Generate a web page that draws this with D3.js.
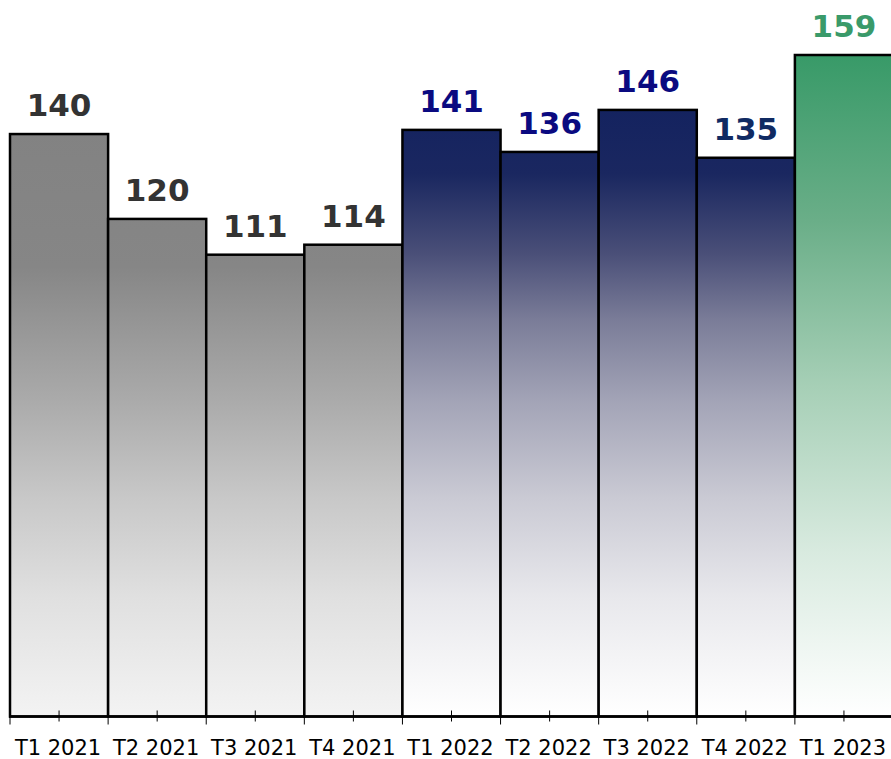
<!DOCTYPE html>
<html>
<head>
<meta charset="utf-8">
<script src="https://cdn.jsdelivr.net/npm/d3@7"></script>
<style>
  body { margin: 0; background: #fff; }
  svg { display: block; }
</style>
</head>
<body>
<div id="chart"></div>
<script>
// Data
var quarters = ["T1 2021", "T2 2021", "T3 2021", "T4 2021", "T1 2022", "T2 2022", "T3 2022", "T4 2022", "T1 2023"]
var values = [140, 119.6, 111, 113.4, 141, 135.7, 145.8, 134.3, 159]
var labels = ["140", "120", "111", "114", "141", "136", "146", "135", "159"]
var groups = ["gray", "gray", "gray", "gray", "blue", "blue", "blue", "blue", "green"]

var width = 891, height = 759
var margin = {top: 55, left: 10, right: -2, bottom: 42.5}

var labelColor = {gray: "#333333", blue: "#0a0a80", green: "#3a9a6a"}
var labelOverride = {"T4 2022": "#102a62"}

var svg = d3.select("#chart")
  .append("svg")
  .attr("width", width)
  .attr("height", height)

var xScale = d3.scaleBand()
  .domain(quarters)
  .range([margin.left, width - margin.right])
  .padding(0)

var yScale = d3.scaleLinear()
  .domain([0, 159])
  .range([height - margin.bottom, margin.top])

// gradients (shared across bars, in user space)
var defs = svg.append("defs")
var gradStops = {
  gray: [[0, "#808080"], [0.32, "#868686"], [0.52, "#aaaaaa"], [0.67, "#c8c8c8"], [0.82, "#e0e0e0"], [1, "#f3f3f3"]],
  blue: [[0, "#0f1f5f"], [0.18, "#1a2760"], [0.3, "#4a4f78"], [0.4, "#7a7c98"], [0.52, "#a2a3b6"], [0.67, "#cacad4"], [0.82, "#e8e8ec"], [1, "#ffffff"]],
  green: [[0, "#389a68"], [0.25, "#6aae88"], [0.5, "#a6cfb6"], [0.75, "#d8eadf"], [1, "#ffffff"]]
}
Object.keys(gradStops).forEach(function(k) {
  var g = defs.append("linearGradient")
    .attr("id", "grad-" + k)
    .attr("gradientUnits", "userSpaceOnUse")
    .attr("x1", 0).attr("x2", 0)
    .attr("y1", yScale(159)).attr("y2", yScale(0))
  gradStops[k].forEach(function(s) {
    g.append("stop").attr("offset", s[0]).attr("stop-color", s[1])
  })
})

var data = quarters.map(function(q, i) {
  return {q: q, v: values[i], label: labels[i], group: groups[i]}
})

// bars
svg.append("g")
  .selectAll("rect")
  .data(data)
  .enter()
  .append("rect")
  .attr("x", d => xScale(d.q))
  .attr("y", d => yScale(d.v))
  .attr("width", xScale.bandwidth())
  .attr("height", d => yScale(0) - yScale(d.v))
  .attr("fill", d => "url(#grad-" + d.group + ")")
  .attr("stroke", "#000")
  .attr("stroke-width", 2.5)

// value labels
svg.append("g")
  .selectAll("text")
  .data(data)
  .enter()
  .append("text")
  .attr("x", d => xScale(d.q) + xScale.bandwidth() / 2)
  .attr("y", d => yScale(d.v) - 18)
  .attr("text-anchor", "middle")
  .style("font-family", "'DejaVu Sans', Verdana, sans-serif")
  .style("font-weight", "bold")
  .style("font-size", "31px")
  .style("fill", d => labelOverride[d.q] || labelColor[d.group])
  .text(d => d.label)

// x axis: line, boundary ticks, center ticks, labels
var axisG = svg.append("g")
var y0 = yScale(0)

axisG.append("line")
  .attr("x1", margin.left - 1)
  .attr("x2", width)
  .attr("y1", y0)
  .attr("y2", y0)
  .attr("stroke", "#000")
  .attr("stroke-width", 2.5)

var bounds = quarters.map(q => xScale(q))
axisG.selectAll(".major")
  .data(bounds)
  .enter()
  .append("line")
  .attr("class", "major")
  .attr("x1", d => d).attr("x2", d => d)
  .attr("y1", y0).attr("y2", y0 + 8)
  .attr("stroke", "#000")
  .attr("stroke-width", 1)

axisG.selectAll(".minor")
  .data(quarters)
  .enter()
  .append("line")
  .attr("class", "minor")
  .attr("x1", d => xScale(d) + xScale.bandwidth() / 2)
  .attr("x2", d => xScale(d) + xScale.bandwidth() / 2)
  .attr("y1", y0 - 6).attr("y2", y0 + 5)
  .attr("stroke", "#000")
  .attr("stroke-width", 1)

axisG.selectAll(".tick-label")
  .data(quarters)
  .enter()
  .append("text")
  .attr("class", "tick-label")
  .attr("x", d => xScale(d) + xScale.bandwidth() / 2 - 1)
  .attr("y", y0 + 38.5)
  .attr("text-anchor", "middle")
  .style("font-family", "'DejaVu Sans', Tahoma, sans-serif")
  .style("font-size", "21px")
  .style("fill", "#000")
  .text(d => d)
</script>
</body>
</html>
